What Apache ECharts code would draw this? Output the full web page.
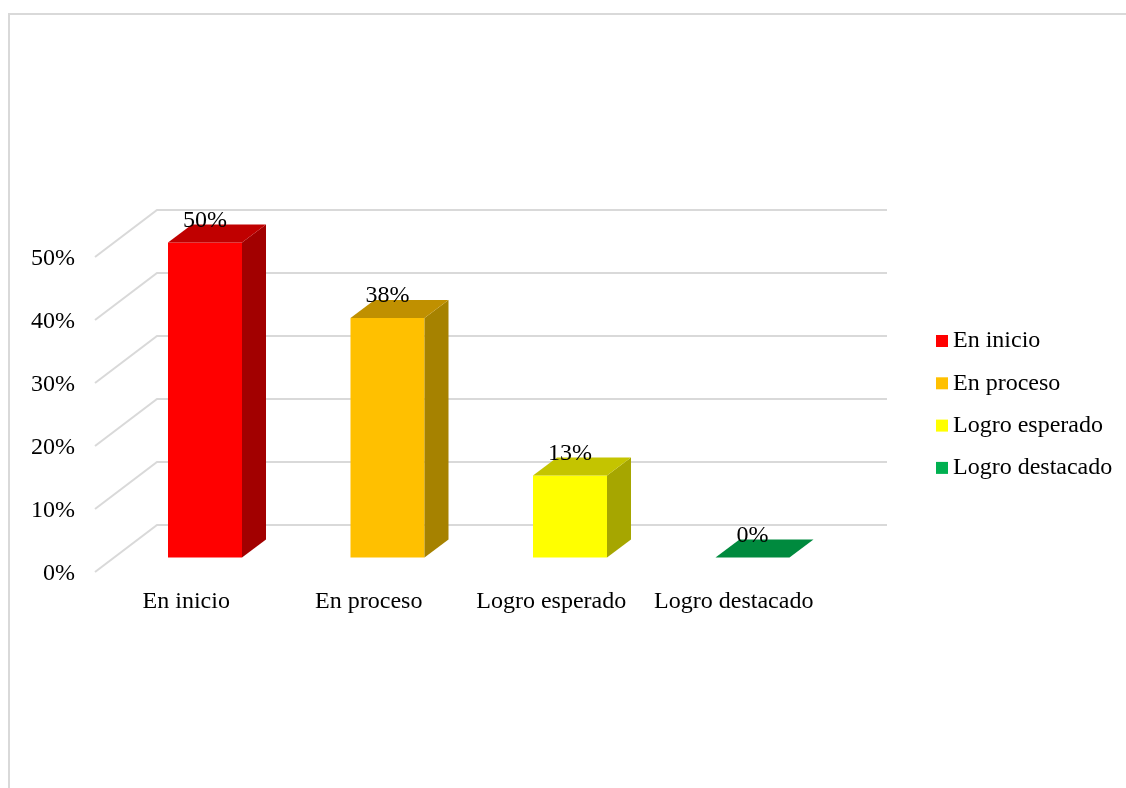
<!DOCTYPE html>
<html>
<head>
<meta charset="utf-8">
<style>html,body{margin:0;padding:0;background:#fff}#chart{width:1126px;height:788px}</style>
<script src="https://cdn.jsdelivr.net/npm/echarts@6/dist/echarts.min.js"></script>
</head>
<body>
<div id="chart"></div>
<script>
// Achievement levels and their share of students
const categories = ['En inicio', 'En proceso', 'Logro esperado', 'Logro destacado'];
const shares = [50, 38, 13, 0];
const yTicks = [0, 10, 20, 30, 40, 50];
const frontColors = ['#FF0000', '#FFC000', '#FFFF00', '#00B050'];
const topColors = ['#C00000', '#C09000', '#C4C400', '#008A3E'];
const sideColors = ['#A20000', '#A68200', '#A6A600', '#008A3E'];

const FONT = '"Liberation Serif", "Times New Roman", serif';
const chart = echarts.init(document.getElementById('chart'));

// Floor and back-wall depth of the pseudo-3D plot, and of each box
const WALL_DX = 62, WALL_DY = -47;
const BOX_DX = 24, BOX_DY = -18;
const BOX_SHIFT_X = 18.75, BOX_SHIFT_Y = -14.5, BOX_WIDTH = 74;

// One gridline: up the side wall, then along the back wall
function renderGridline(params, api) {
  const p = api.coord([0, api.value(1)]);
  const w = api.size([1, 0])[0];
  const x0 = p[0] - w / 2;
  return {
    type: 'polyline',
    silent: true,
    shape: { points: [
      [x0, p[1]],
      [x0 + WALL_DX, p[1] + WALL_DY],
      [x0 + 4 * w + WALL_DX, p[1] + WALL_DY]
    ] },
    style: { stroke: '#D9D9D9', lineWidth: 2, fill: null }
  };
}

// One box: front, top and side faces plus its value label
function makeBoxRenderer(i) {
  return function (params, api) {
    const top = api.coord([api.value(0), api.value(1)]);
    const base = api.coord([api.value(0), 0]);
    const xl = top[0] + BOX_SHIFT_X - BOX_WIDTH / 2;
    const xr = xl + BOX_WIDTH;
    const yt = top[1] + BOX_SHIFT_Y;
    const yb = base[1] + BOX_SHIFT_Y;
    const children = [];
    if (yb - yt > 0.5) {
      children.push({ type: 'polygon', shape: { points: [[xl, yb], [xr, yb], [xr, yt], [xl, yt]] },
        style: { fill: frontColors[i] } });
      children.push({ type: 'polygon', shape: { points: [[xr, yb], [xr + BOX_DX, yb + BOX_DY], [xr + BOX_DX, yt + BOX_DY], [xr, yt]] },
        style: { fill: sideColors[i] } });
    }
    children.push({ type: 'polygon', shape: { points: [[xl, yt], [xr, yt], [xr + BOX_DX, yt + BOX_DY], [xl + BOX_DX, yt + BOX_DY]] },
      style: { fill: topColors[i] } });
    children.push({ type: 'text', z2: 10, style: {
      x: (xl + xr) / 2, y: yt - 22, text: api.value(1) + '%',
      font: '24px ' + FONT, fill: '#000', align: 'center', verticalAlign: 'middle'
    } });
    return { type: 'group', children };
  };
}

chart.setOption({
  animation: false,
  backgroundColor: '#fff',
  graphic: [{
    type: 'polyline',
    silent: true,
    shape: { points: [[9, 800], [9, 14], [1140, 14]] },
    style: { stroke: '#D9D9D9', lineWidth: 2, fill: null }
  }],
  grid: { left: 95, right: 301, top: 257, bottom: 216, containLabel: false },
  legend: {
    orient: 'vertical',
    left: 931,
    top: 324,
    itemWidth: 12,
    itemHeight: 12,
    itemGap: 18.3,
    icon: 'rect',
    data: categories,
    textStyle: { fontFamily: FONT, fontSize: 24, color: '#000' }
  },
  xAxis: {
    type: 'category',
    data: categories,
    axisLine: { show: false },
    axisTick: { show: false },
    splitLine: { show: false },
    axisLabel: { fontFamily: FONT, fontSize: 24, color: '#000', margin: 18, interval: 0 }
  },
  yAxis: {
    type: 'value',
    min: 0,
    max: 50,
    interval: 10,
    axisLine: { show: false },
    axisTick: { show: false },
    splitLine: { show: false },
    axisLabel: {
      margin: 20,
      formatter: '{t|{value}%}',
      rich: { t: { fontFamily: FONT, fontSize: 24, color: '#000', padding: [4, 0, 0, 0] } }
    }
  },
  series: [
    {
      type: 'custom',
      name: 'grid',
      silent: true,
      z: 1,
      renderItem: renderGridline,
      encode: { x: 0, y: 1 },
      data: yTicks.map(t => [0, t])
    }
  ].concat(categories.map((name, i) => ({
    type: 'custom',
    name,
    z: 2,
    itemStyle: { color: frontColors[i] },
    renderItem: makeBoxRenderer(i),
    encode: { x: 0, y: 1 },
    data: [[i, shares[i]]]
  })))
});
</script>
</body>
</html>
